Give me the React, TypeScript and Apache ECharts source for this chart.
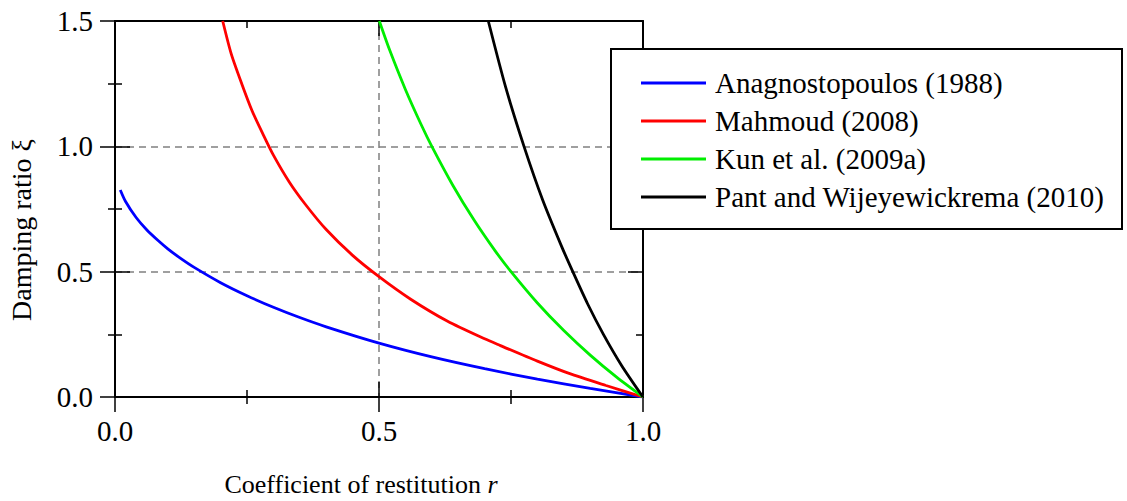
import React, { useEffect, useRef } from "react";
import * as echarts from "echarts";

const FONT = "'Liberation Serif', 'Times New Roman', Times, serif";

// Axis titles
const xTitle = "Coefficient of restitution ";
const xTitleItalic = "r";
const yTitle = "Damping ratio ξ";

// Series names
const seriesNames = [
  "Anagnostopoulos (1988)",
  "Mahmoud (2008)",
  "Kun et al. (2009a)",
  "Pant and Wijeyewickrema (2010)",
];
const seriesColors = ["#0000ff", "#ff0000", "#00ee00", "#000000"];

// Anagnostopoulos (1988)
const anagR = [0.01, 0.02, 0.04, 0.06, 0.08, 0.1, 0.125, 0.15, 0.2, 0.25, 0.3, 0.35, 0.4, 0.5, 0.6, 0.7, 0.8, 0.9, 1.0];
const anagXi = [0.826, 0.78, 0.716, 0.667, 0.627, 0.591, 0.552, 0.517, 0.456, 0.404, 0.358, 0.317, 0.28, 0.215, 0.16, 0.113, 0.071, 0.034, 0];

// Mahmoud (2008)
const mahR = [0.204, 0.22, 0.24, 0.26, 0.28, 0.3, 0.33, 0.36, 0.4, 0.45, 0.5, 0.56, 0.63, 0.7, 0.73, 0.8, 0.86, 0.93, 1.0];
const mahXi = [1.5, 1.37, 1.25, 1.14, 1.05, 0.965, 0.858, 0.77, 0.668, 0.565, 0.48, 0.39, 0.302, 0.232, 0.205, 0.143, 0.094, 0.046, 0];

// Kun et al. (2009a)
const kunR = [0.5006, 0.52, 0.55, 0.58, 0.6, 0.64, 0.68, 0.72, 0.75, 0.8, 0.85, 0.9, 0.95, 1.0];
const kunXi = [1.5, 1.385, 1.227, 1.086, 1.0, 0.844, 0.706, 0.583, 0.5, 0.375, 0.265, 0.167, 0.079, 0];

// Pant and Wijeyewickrema (2010)
const pantR = [0.707, 0.74, 0.7746, 0.81, 0.845, 0.867, 0.895, 0.925, 0.96, 1.0];
const pantXi = [1.5, 1.235, 1.0, 0.786, 0.605, 0.5, 0.372, 0.25, 0.124, 0];

const allR = [anagR, mahR, kunR, pantR];
const allXi = [anagXi, mahXi, kunXi, pantXi];

const xRange = { min: 0, max: 1, interval: 0.5 };
const yRange = { min: 0, max: 1.5, interval: 0.5 };

const black = { color: "#000", width: 1.5 };

function makeAxis(range: any, position: string, inside: boolean, labels: boolean, split: boolean) {
  return {
    type: "value",
    ...range,
    position,
    axisLine: { show: true, onZero: false, lineStyle: { color: "#000", width: 2 } },
    axisTick: { show: true, inside, length: 15, lineStyle: black },
    minorTick: { show: true, splitNumber: 2, length: 7, lineStyle: black },
    axisLabel: {
      show: labels,
      fontSize: 29,
      fontFamily: FONT,
      color: "#000",
      margin: position === "bottom" ? 19 : 22,
      formatter: (v: number) => v.toFixed(1),
    },
    splitLine: {
      show: split,
      lineStyle: { color: "#808080", width: 1.5, type: [7, 5] },
    },
    minorSplitLine: { show: false },
  };
}

export default function App() {
  const ref = useRef<HTMLDivElement>(null);
  useEffect(() => {
    const chart = echarts.init(ref.current!, null, { renderer: "svg" });
    const option: any = {
      animation: false,
      backgroundColor: "#fff",
      grid: { left: 115, right: 484, top: 21, bottom: 104, containLabel: false },
      xAxis: [
        makeAxis(xRange, "bottom", false, true, true),
        makeAxis(xRange, "bottom", true, false, false),
        makeAxis(xRange, "top", true, false, false),
      ],
      yAxis: [
        makeAxis(yRange, "left", false, true, true),
        makeAxis(yRange, "left", true, false, false),
        makeAxis(yRange, "right", true, false, false),
      ],
      legend: {
        z: 20,
        orient: "vertical",
        left: 641,
        top: 68.5,
        padding: 0,
        itemWidth: 65,
        itemHeight: 14,
        itemGap: 9,
        selectedMode: false,
        textStyle: {
          fontSize: 29,
          fontFamily: FONT,
          color: "#000",
          lineHeight: 28,
          padding: [0, 0, 0, 4],
        },
        data: seriesNames.map((n, i) => ({
          name: n,
          icon: "path://M0,5.6 L65,5.6 L65,8.4 L0,8.4 Z",
          itemStyle: { color: seriesColors[i] },
        })),
      },
      graphic: [
        {
          type: "rect",
          z: 10,
          shape: { x: 611, y: 49, width: 511, height: 180 },
          style: { fill: "#fff", stroke: "#000", lineWidth: 2 },
        },
        {
          type: "text",
          x: 361,
          y: 484,
          style: {
            text: xTitle + "{i|" + xTitleItalic + "}",
            fontSize: 26,
            fontFamily: FONT,
            fill: "#000",
            align: "center",
            verticalAlign: "middle",
            rich: {
              i: { fontStyle: "italic", fontSize: 26, fontFamily: FONT, fill: "#000" },
            },
          },
        },
        {
          type: "text",
          x: 21,
          y: 230,
          rotation: Math.PI / 2,
          style: {
            text: yTitle,
            fontSize: 28,
            fontFamily: FONT,
            fill: "#000",
            align: "center",
            verticalAlign: "middle",
          },
        },
      ],
      series: seriesNames.map((name, i) => ({
        name,
        type: "line",
        xAxisIndex: 0,
        yAxisIndex: 0,
        symbol: "none",
        smooth: 0.25,
        clip: true,
        z: 5,
        lineStyle: { color: seriesColors[i], width: 2.8 },
        itemStyle: { color: seriesColors[i] },
        data: allR[i].map((r, j) => [r, allXi[i][j]]),
      })),
    };
    chart.setOption(option);
    return () => chart.dispose();
  }, []);
  return (
    <div
      ref={ref}
      style={{ position: "fixed", left: 0, top: 0, width: 1127, height: 501 }}
    />
  );
}
